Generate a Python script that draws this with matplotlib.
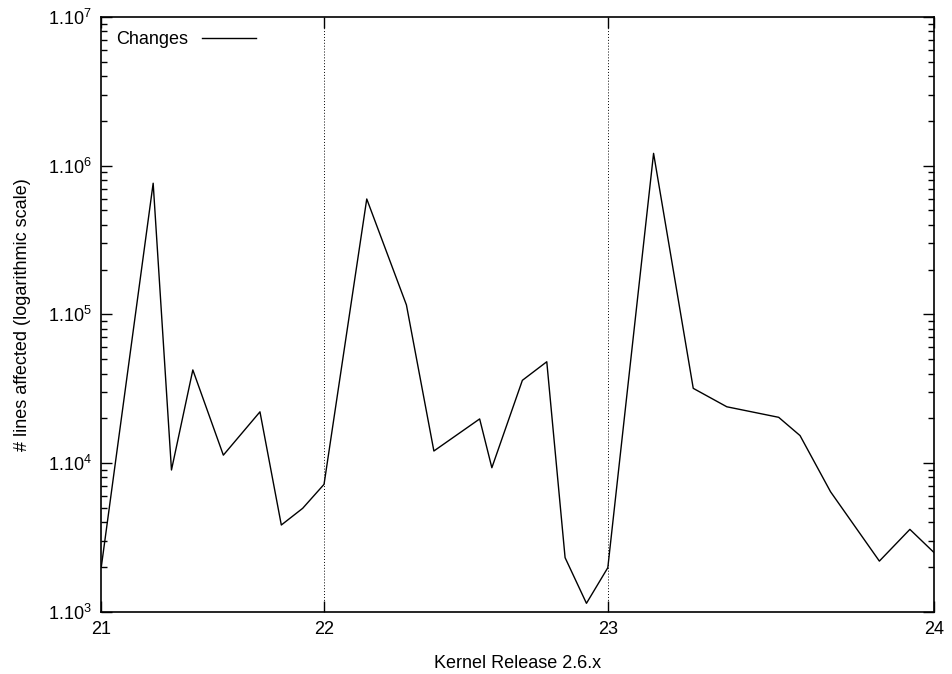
import matplotlib
matplotlib.use('Agg')
import matplotlib.pyplot as plt
from matplotlib.ticker import LogLocator, FuncFormatter, NullFormatter
import datetime as dt
import math

# release / -rc dates of the kernel series
dates = ['2007-04-26', '2007-05-13', '2007-05-19', '2007-05-26', '2007-06-05',
         '2007-06-17', '2007-06-24', '2007-07-01', '2007-07-08', '2007-07-22',
         '2007-08-04', '2007-08-13', '2007-08-28', '2007-09-01', '2007-09-11',
         '2007-09-19', '2007-09-25', '2007-10-02', '2007-10-09', '2007-10-24',
         '2007-11-06', '2007-11-17', '2007-12-04', '2007-12-11', '2007-12-21',
         '2008-01-06', '2008-01-16', '2008-01-24']
changes = [2000, 762000, 8980, 42300, 11300, 22100, 3830, 4960, 7190, 597000,
           115700, 12050, 19800, 9300, 36000, 48000, 2310, 1139, 1977, 1210000,
           31800, 23900, 20300, 15300, 6410, 2190, 3580, 2490]
releases = ['21', '22', '23', '24']
release_dates = ['2007-04-26', '2007-07-08', '2007-10-09', '2008-01-24']

fontlist = ['Liberation Sans Narrow', 'Liberation Sans', 'DejaVu Sans']
plt.rcParams['font.family'] = fontlist
plt.rcParams['font.size'] = 13
plt.rcParams['mathtext.fontset'] = 'custom'
plt.rcParams['mathtext.rm'] = 'Liberation Sans'
plt.rcParams['mathtext.it'] = 'Liberation Sans'

def d(s):
	return dt.datetime.strptime(s, '%Y-%m-%d')

x = [d(s) for s in dates]
rx = [d(s) for s in release_dates]

fig = plt.figure(figsize=(9.52, 6.74), dpi=100)
ax = fig.add_axes([0.1064, 0.0924, 0.875, 0.8824])

for r in rx[1:-1]:
	ax.axvline(r, color='black', linestyle=(0, (1, 2)), linewidth=0.7, zorder=1)

ax.plot(x, changes, color='black', linewidth=1.0, label='Changes', zorder=2)

ax.set_yscale('log')
ax.set_ylim(1e3, 1e7)
ax.set_xlim(rx[0], rx[-1])

ax.set_xticks(rx)
ax.set_xticklabels(releases)
ax.yaxis.set_major_locator(LogLocator(base=10, numticks=10))
ax.yaxis.set_minor_locator(LogLocator(base=10, subs=range(2, 10), numticks=10))
ax.yaxis.set_major_formatter(FuncFormatter(lambda v, p: r'1.10$^{%d}$' % round(math.log10(v))))
ax.yaxis.set_minor_formatter(NullFormatter())

ax.tick_params(which='both', direction='in', top=True, right=True, width=1.0)
ax.tick_params(which='major', length=8, labelsize=13, pad=7)
ax.tick_params(which='minor', length=4)
for s in ax.spines.values():
	s.set_linewidth(1.2)

ax.set_xlabel('Kernel Release 2.6.x', fontsize=13, labelpad=12)
ax.set_ylabel('# lines affected (logarithmic scale)', fontsize=13, labelpad=12)

ax.legend(loc='upper left', frameon=False, markerfirst=False, handlelength=3.0,
	fontsize=13, borderaxespad=0.4, handletextpad=0.8)

fig.savefig('out.png', dpi=100)
